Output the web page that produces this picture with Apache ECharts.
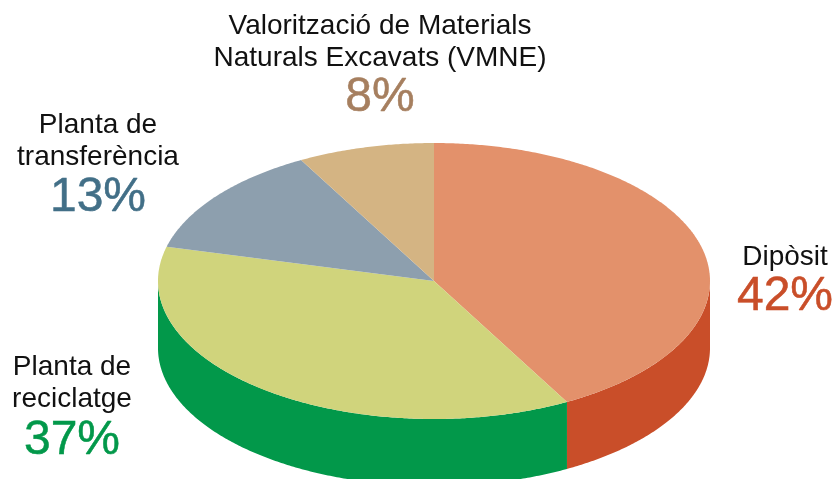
<!DOCTYPE html>
<html>
<head>
<meta charset="utf-8">
<style>
    html, body { margin: 0; padding: 0; background: #fff; }
    #chart { width: 837px; height: 479px; }
</style>
</head>
<body>
<div id="chart"></div>
<script src="https://cdn.jsdelivr.net/npm/echarts@6/dist/echarts.min.js"></script>
<script>
const categories = ['Dipòsit', 'Planta de\nreciclatge', 'Planta de\ntransferència', 'Valorització de Materials\nNaturals Excavats (VMNE)'];
const values = [42, 37, 13, 8];

const topColors = ['#e3916b', '#d0d47c', '#8d9fae', '#d4b483'];
const sideColors = ['#c94e29', '#02984a', '#6d8494', '#b89868'];
const valueColors = ['#c94e29', '#02984a', '#426f87', '#a67f5f'];

// each label block: [centre x, bottom of the name, middle of the percent]
const labelPos = [[785, 273, 297], [72, 415, 441], [98, 173, 198], [380, 74, 98]];

const cx = 434, cy = 281, rx = 276, ry = 138, depth = 67;
const total = values.reduce((a, b) => a + b, 0);

function startAngle(i) {
    let sum = 0;
    for (let k = 0; k < i; k++) sum += values[k];
    return sum / total * 360;
}

// 0 degrees is the top of the pie, going clockwise
function rimPoints(from, to, dy) {
    const pts = [];
    const n = Math.max(1, Math.ceil((to - from) * 2));
    for (let k = 0; k <= n; k++) {
        const a = (from + (to - from) * k / n) * Math.PI / 180;
        pts.push([cx + rx * Math.sin(a), cy - ry * Math.cos(a) + dy]);
    }
    return pts;
}

function renderSide(params, api) {
    const i = api.value(0);
    const from = Math.max(startAngle(i), 90);
    const to = Math.min(startAngle(i) + api.value(1) / total * 360, 270);
    if (to <= from) return { type: 'group', children: [] };
    return {
        type: 'polygon',
        shape: { points: rimPoints(from, to, 0).concat(rimPoints(from, to, depth).reverse()) },
        style: { fill: sideColors[i] }
    };
}

function renderTop(params, api) {
    const i = api.value(0);
    const from = startAngle(i);
    const to = from + api.value(1) / total * 360;
    return {
        type: 'polygon',
        shape: { points: [[cx, cy]].concat(rimPoints(from, to, 0)) },
        style: { fill: topColors[i] }
    };
}

function renderLabel(params, api) {
    const i = api.value(0);
    const pos = labelPos[i];
    return {
        type: 'group',
        children: [{
            type: 'text',
            style: {
                x: pos[0], y: pos[1], text: categories[i],
                fill: '#111', font: '28px "Liberation Sans"', lineHeight: 32,
                align: 'center', verticalAlign: 'bottom'
            }
        }, {
            type: 'text',
            style: {
                x: pos[0], y: pos[2], text: api.value(1) + '%',
                fill: valueColors[i], font: '48px "Liberation Sans"',
                stroke: valueColors[i], lineWidth: 0.5,
                align: 'center', verticalAlign: 'middle'
            }
        }]
    };
}

const seriesData = values.map((v, i) => [i, v]);

const chart = echarts.init(document.getElementById('chart'));
chart.setOption({
    animation: false,
    series: [
        { type: 'custom', coordinateSystem: 'none', renderItem: renderSide, data: seriesData, silent: true, clip: false, z: 1 },
        { type: 'custom', coordinateSystem: 'none', renderItem: renderTop, data: seriesData, silent: true, clip: false, z: 2 },
        { type: 'custom', coordinateSystem: 'none', renderItem: renderLabel, data: seriesData, silent: true, clip: false, z: 3 }
    ]
});
</script>
</body>
</html>
